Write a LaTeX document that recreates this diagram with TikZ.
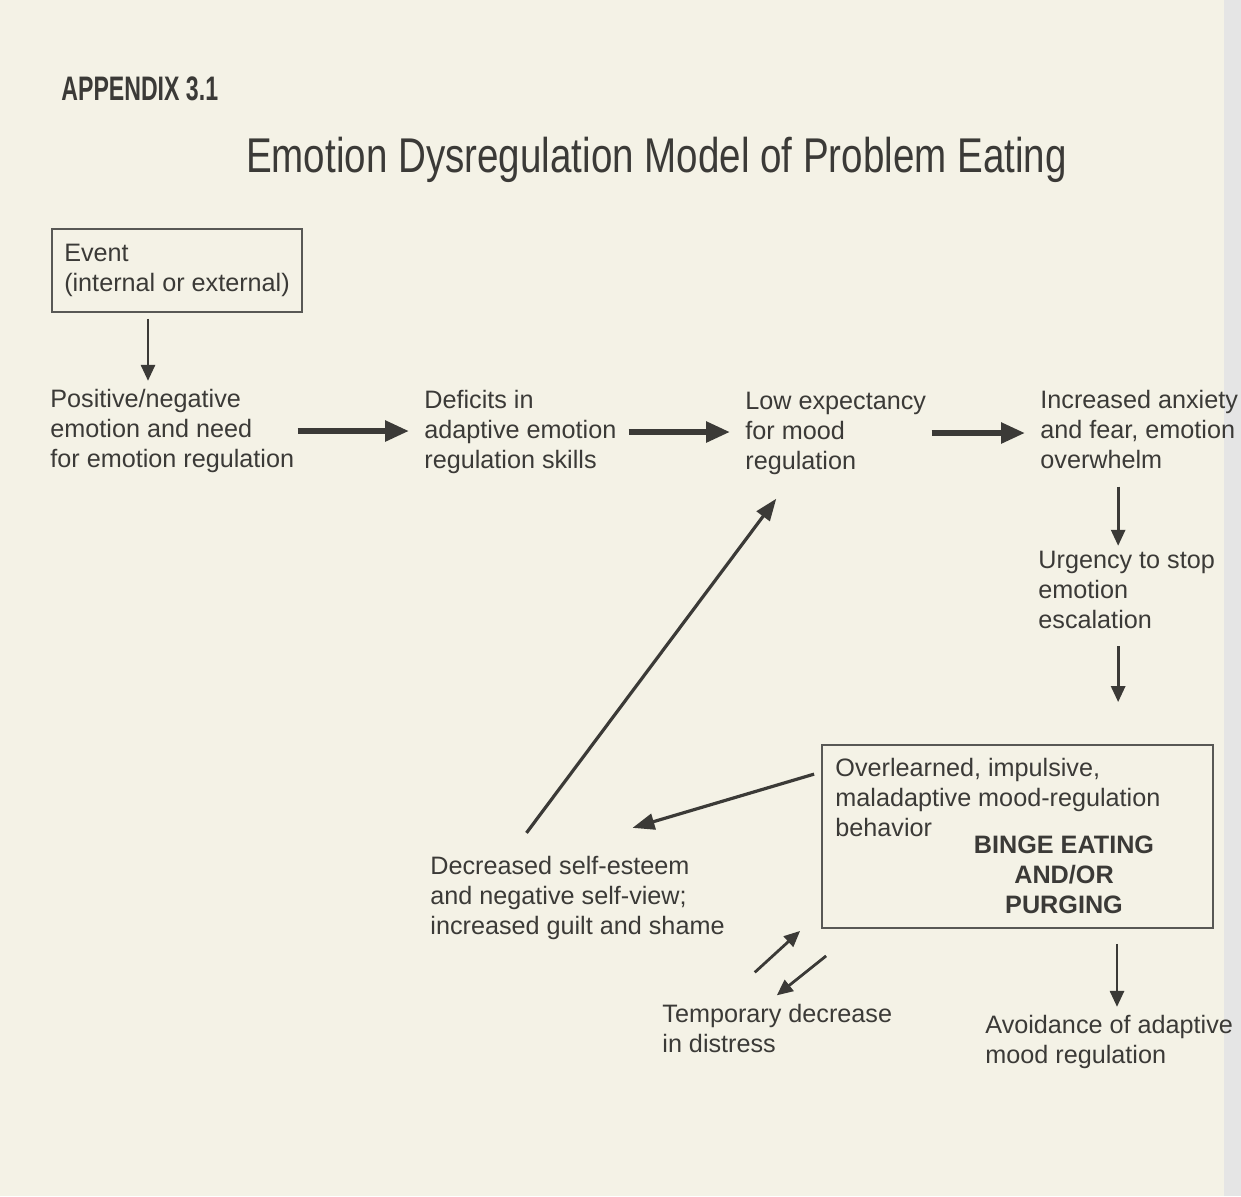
\documentclass[tikz,border=0pt]{standalone}
\usepackage{fontspec}
\setmainfont{Liberation Sans}
\newfontfamily\titlefont[FakeStretch=0.79]{Liberation Sans}
\newfontfamily\appxfont[FakeStretch=0.68]{Liberation Sans}
\usetikzlibrary{arrows.meta}

\definecolor{ink}{HTML}{3B3A37}
\definecolor{paper}{HTML}{F4F2E6}

\tikzset{
  txt/.style={align=left, inner sep=0pt, anchor=west, text=ink,
    font=\fontsize{12.6}{15}\selectfont},
  boxed/.style={draw=ink!85, line width=0.9pt},
  fatarrow/.style={-{Triangle[length=12pt,width=10pt]}, line width=2.8pt,
    draw=ink, shorten >=7.5pt},
  thinarrow/.style={-{Triangle[length=8pt,width=7pt]}, line width=1.4pt, draw=ink},
  diagarrow/.style={-{Triangle[length=11pt,width=8pt]}, line width=1.6pt, draw=ink},
}

\begin{document}
\begin{tikzpicture}[x=0.5pt,y=-0.5pt]
  \fill[paper] (0,0) rectangle (1241,1196);
  \fill[black!10] (1224,0) rectangle (1241,1196);
  \useasboundingbox (0,0) rectangle (1241,1196);

  % headings
  \node[anchor=base west, inner sep=0pt, text=ink,
    font=\appxfont\bfseries\fontsize{17}{17}\selectfont] (appx) at (61,100) {APPENDIX 3.1};
  \node[anchor=base, inner sep=0pt, text=ink,
    font=\titlefont\fontsize{24.4}{24.4}\selectfont] (title) at (656.5,172)
    {Emotion Dysregulation Model of Problem Eating};

  % top row
  \node[txt, boxed, anchor=center, minimum width=125pt, inner xsep=4pt,
    minimum height=41.5pt] (event) at (177,270.5) {Event\\(internal or external)};
  \node[txt] (pos) at (50,431) {Positive/negative\\emotion and need\\for emotion regulation};
  \node[txt] (def) at (424,432) {Deficits in\\adaptive emotion\\regulation skills};
  \node[txt] (low) at (745,433) {Low expectancy\\for mood\\regulation};
  \node[txt] (anx) at (1040,429) {Increased anxiety\\and fear, emotion\\overwhelm};

  % right column and lower part
  \node[txt] (urg) at (1038,590) {Urgency to stop\\emotion\\escalation};
  \node[boxed, minimum width=195.5pt, minimum height=91.5pt, inner sep=0pt] (behav) at (1017.5,836.5) {};
  \node[txt] (overl) at (835,797) {Overlearned, impulsive,\\maladaptive mood-regulation\\behavior};
  \node[txt, anchor=center, align=center,
    font=\bfseries\fontsize{12.6}{15}\selectfont] (binge) at (1064,875) {BINGE EATING\\AND/OR\\PURGING};
  \node[txt] (dec) at (430,898) {Decreased self-esteem\\and negative self-view;\\increased guilt and shame};
  \node[txt] (tmp) at (662,1028) {Temporary decrease\\in distress};
  \node[txt] (avoid) at (985,1042) {Avoidance of adaptive\\mood regulation};

  % connectors
  \draw[thinarrow, shorten <=3pt, shorten >=4pt] ([xshift=-14.5pt]event.south) -- ([xshift=-14.5pt]event.south |- pos.north);
  \draw[fatarrow, shorten <=1.5pt] (pos.east) -- (pos.east -| def.west);
  \draw[fatarrow, shorten <=6pt] (def.east) -- (def.east -| low.west);
  \draw[fatarrow, shorten <=2.5pt] (low.east) -- (low.east -| anx.west);
  \draw[thinarrow, shorten <=9pt, shorten >=2.5pt] ([xshift=-4.25pt]urg.north |- anx.south) -- ([xshift=-4.25pt]urg.north);
  \draw[thinarrow, shorten <=8.5pt, shorten >=21pt] ([xshift=-4.25pt]urg.south) -- ([xshift=-4.25pt]urg.south |- behav.north);
  \draw[thinarrow, shorten <=7.5pt, shorten >=4pt] ([xshift=49.75pt]behav.south) -- ([xshift=49.75pt]behav.south |- avoid.north);
  \draw[diagarrow] ([xshift=-3.5pt,yshift=-15pt]behav.north west) -- ([xshift=27.5pt,yshift=14pt]dec.north);
  \draw[diagarrow] ([xshift=-25.5pt,yshift=11.5pt]dec.north) -- ([xshift=-29.75pt,yshift=-12pt]low.south);
  \draw[thinarrow] ([xshift=-11.25pt,yshift=15.5pt]tmp.north) -- ([xshift=-10.5pt,yshift=-1pt]behav.south west);
  \draw[thinarrow] ([xshift=2.5pt,yshift=-13.5pt]behav.south west) -- ([xshift=-0.25pt,yshift=4pt]tmp.north);
\end{tikzpicture}
\end{document}
